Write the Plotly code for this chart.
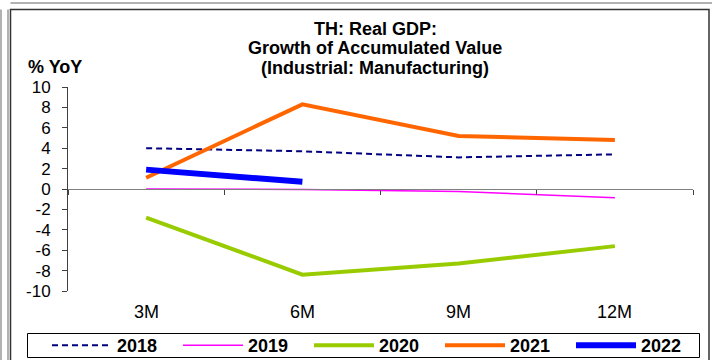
import plotly.graph_objects as go

categories = ["3M", "6M", "9M", "12M"]
y2018 = [4.0, 3.7, 3.1, 3.4]
y2019 = [0.0, -0.05, -0.25, -0.85]
y2020 = [-2.8, -8.4, -7.3, -5.6]
y2021 = [1.1, 8.3, 5.2, 4.8]
y2022 = [1.9, 0.7]
series_names = ["2018", "2019", "2020", "2021", "2022"]
y_ticks = list(range(-10, 12, 2))
y_ticklabels = [str(v) for v in y_ticks]
title_lines = ["TH: Real GDP:", "Growth of Accumulated Value", "(Industrial: Manufacturing)"]
y_title = "% YoY"

W, H = 712, 360
L, R, T, B = 68, 693, 87, 291  # plot area in px

def px(x):
    return (x - L) / (R - L)

def py(y):
    return (B - y) / (B - T)

FONT = "Liberation Sans, Arial, sans-serif"

fig = go.Figure()
styles = [
    dict(color="#000080", width=2, dash="6px,4px"),
    dict(color="#FF00FF", width=1.5),
    dict(color="#99CC00", width=4),
    dict(color="#FF6600", width=4),
    dict(color="#0000FF", width=6),
]
datas = [y2018, y2019, y2020, y2021, y2022]
for name, d, st in zip(series_names, datas, styles):
    fig.add_trace(go.Scatter(x=categories[:len(d)], y=d, mode="lines", name=name,
                             line=st, hoverinfo="skip"))

fig.update_layout(
    width=W, height=H,
    margin=dict(l=L, r=W - R, t=T, b=H - B, pad=0, autoexpand=False),
    paper_bgcolor="white", plot_bgcolor="white",
    font=dict(family=FONT, size=16, color="black"),
    showlegend=True,
    legend=dict(orientation="h", xref="paper", yref="paper",
                x=px(28), xanchor="left", y=py(327), yanchor="top",
                bgcolor="rgba(0,0,0,0)", borderwidth=0,
                font=dict(family=FONT, size=18, color="black", weight="bold"),
                itemwidth=60, entrywidth=37, entrywidthmode="pixels",
                indentation=19, tracegroupgap=0, itemclick=False),
    xaxis=dict(type="category", categoryorder="array", categoryarray=categories,
               range=[-0.5, len(categories) - 0.5],
               anchor="free", position=0.5,
               showline=True, linecolor="#808080", linewidth=1,
               ticks="outside", tickson="boundaries", ticklen=5, tickcolor="#404040",
               showticklabels=False, showgrid=False, zeroline=False, fixedrange=True),
    yaxis=dict(range=[-10, 10], tickvals=y_ticks, ticktext=y_ticklabels,
               ticks="outside", ticklen=5,
               tickcolor="#404040", showline=True, linecolor="#404040", linewidth=1,
               showgrid=False, zeroline=False, ticklabelstandoff=8,
               tickfont=dict(family=FONT, size=17, color="black"), fixedrange=True),
)

# category labels along the bottom
for c in categories:
    fig.add_annotation(text=c, xref="x", yref="paper", x=c, y=py(312),
                       xanchor="center", yanchor="middle", showarrow=False,
                       font=dict(family=FONT, size=18, color="black"))

for txt, yc in zip(title_lines, (29, 48, 68)):
    fig.add_annotation(text="<b>" + txt + "</b>", xref="paper", yref="paper",
                       x=px(375), y=py(yc), xanchor="center", yanchor="middle",
                       showarrow=False, font=dict(family=FONT, size=18, color="black"))

fig.add_annotation(text="<b>" + y_title + "</b>", xref="paper", yref="paper",
                   x=px(26), y=py(67), xanchor="left", yanchor="middle",
                   showarrow=False, font=dict(family=FONT, size=18, color="black"))

# legend frame
fig.add_shape(type="rect", xref="paper", yref="paper",
              x0=px(27.5), x1=px(699.5), y0=py(357.5), y1=py(333.5),
              line=dict(color="black", width=1), fillcolor="white", layer="below")
# outer frames
fig.add_shape(type="rect", xref="paper", yref="paper",
              x0=px(10.5), x1=px(709), y0=py(365), y1=py(9.5),
              line=dict(color="#333333", width=1.5), layer="below")
fig.add_shape(type="line", xref="paper", yref="paper",
              x0=px(10.5), x1=px(712), y0=py(3), y1=py(3),
              line=dict(color="#999999", width=1.5), layer="below")
for xv in (1, 8):
    fig.add_shape(type="line", xref="paper", yref="paper",
                  x0=px(xv), x1=px(xv), y0=py(365), y1=py(9.5),
                  line=dict(color="#999999", width=1.5), layer="below")

fig.write_html("out.html", config={"staticPlot": True, "displayModeBar": False},
               post_script="document.body.style.margin='0';document.body.style.overflow='hidden';")
